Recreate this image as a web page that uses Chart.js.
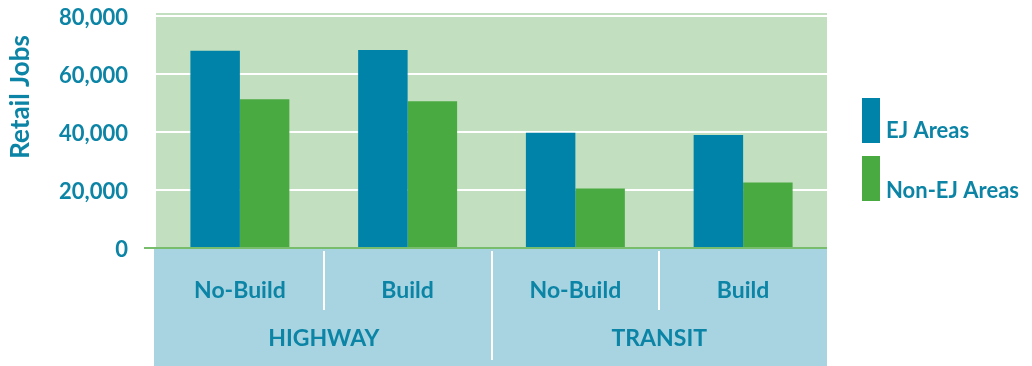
<!DOCTYPE html>
<html>
<head>
<meta charset="utf-8">
<title>Retail Jobs</title>
<script src="https://cdn.jsdelivr.net/npm/chart.js@4.4.1/dist/chart.umd.min.js"></script>
<style>
  html, body { margin: 0; padding: 0; background: #ffffff; }
  #wrap { width: 1032px; height: 366px; }
</style>
</head>
<body>
<div id="wrap"><canvas id="retailChart" width="1032" height="366"></canvas></div>
<script>
// Retail jobs by scenario, EJ vs non-EJ areas
const scenarios = ['No-Build', 'Build', 'No-Build', 'Build'];
const modes = ['HIGHWAY', 'TRANSIT'];
const ejAreas = [68000, 68300, 39700, 39000];
const nonEjAreas = [51300, 50600, 20500, 22600];
const yTicks = [0, 20000, 40000, 60000, 80000];
const seriesNames = ['EJ Areas', 'Non-EJ Areas'];
const yTitle = 'Retail Jobs';

const TEXT_COLOR = '#0b84a6';
const FONT_FAMILY = 'Lato, "Open Sans", sans-serif';
const BLUE = '#0083a9';
const GREEN = '#4aaa42';

function font(size) {
    return 'bold ' + size + 'px ' + FONT_FAMILY;
}

// Draws the plot background, the category panel under the bars, the axis title and the legend
const decorPlugin = {
    id: 'decor',
    beforeDraw(chart) {
        const { ctx, chartArea: a } = chart;
        ctx.save();
        ctx.fillStyle = '#c2e0bf';
        ctx.fillRect(a.left, a.top - 3, a.right - a.left, a.bottom - a.top + 3);
        ctx.restore();
    },
    afterDraw(chart) {
        const { ctx, chartArea: a } = chart;
        const x = chart.scales.x;

        ctx.save();

        // category panel
        ctx.fillStyle = '#a7d4e0';
        ctx.fillRect(a.left - 2, a.bottom + 1, a.right - a.left + 2, chart.height - a.bottom - 1);

        // separators between scenarios (short) and between modes (long)
        ctx.strokeStyle = '#ffffff';
        ctx.lineWidth = 2;
        for (let i = 0; i < scenarios.length - 1; i++) {
            const sx = Math.round((x.getPixelForValue(i) + x.getPixelForValue(i + 1)) / 2);
            const long = (i + 1) % 2 === 0;
            ctx.beginPath();
            ctx.moveTo(sx, a.bottom + 3);
            ctx.lineTo(sx, long ? a.bottom + 112 : a.bottom + 62);
            ctx.stroke();
        }

        ctx.fillStyle = TEXT_COLOR;
        ctx.textAlign = 'center';
        ctx.textBaseline = 'alphabetic';
        ctx.font = font(23);
        scenarios.forEach((s, i) => {
            ctx.fillText(s, x.getPixelForValue(i), a.bottom + 50);
        });
        modes.forEach((m, j) => {
            const cx = (x.getPixelForValue(j * 2) + x.getPixelForValue(j * 2 + 1)) / 2;
            ctx.fillText(m, cx, a.bottom + 98);
        });

        // y axis title
        ctx.save();
        ctx.translate(29, 97);
        ctx.rotate(-Math.PI / 2);
        ctx.font = font(26);
        ctx.fillText(yTitle, 0, 0);
        ctx.restore();

        // legend
        const boxTops = [98, 156];
        const textBases = [138, 198];
        chart.data.datasets.forEach((ds, i) => {
            ctx.fillStyle = ds.backgroundColor;
            ctx.fillRect(862, boxTops[i], 18, 45);
            ctx.fillStyle = TEXT_COLOR;
            ctx.textAlign = 'left';
            ctx.font = font(22);
            ctx.fillText(ds.label, 886, textBases[i]);
        });

        ctx.restore();
    }
};

const ctx = document.getElementById('retailChart').getContext('2d');
new Chart(ctx, {
    type: 'bar',
    data: {
        labels: scenarios,
        datasets: [
            {
                label: seriesNames[0],
                data: ejAreas,
                backgroundColor: BLUE,
                borderWidth: 0,
                categoryPercentage: 0.59,
                barPercentage: 1.0
            },
            {
                label: seriesNames[1],
                data: nonEjAreas,
                backgroundColor: GREEN,
                borderWidth: 0,
                categoryPercentage: 0.59,
                barPercentage: 1.0
            }
        ]
    },
    options: {
        responsive: false,
        animation: false,
        layout: {
            padding: { top: 16, right: 205, bottom: 118, left: 0 }
        },
        plugins: {
            legend: { display: false },
            tooltip: { enabled: false }
        },
        scales: {
            x: {
                display: false
            },
            y: {
                min: 0,
                max: 80000,
                afterBuildTicks(scale) {
                    scale.ticks = yTicks.map(v => ({ value: v }));
                },
                afterFit(scale) {
                    // fixed axis width; the layout padding alone places the plot top
                    scale.width = 156;
                    scale.paddingTop = 0;
                    scale.paddingBottom = 0;
                },
                border: { display: false },
                grid: {
                    color: c => (c.tick && c.tick.value === 0 ? '#78bd6b' : '#ffffff'),
                    lineWidth: 2,
                    tickLength: 12
                },
                ticks: {
                    color: TEXT_COLOR,
                    font: { family: FONT_FAMILY, size: 22, weight: 'bold' },
                    padding: 16,
                    labelOffset: 2,
                    callback: v => v.toLocaleString('en-US')
                }
            }
        }
    },
    plugins: [decorPlugin]
});
</script>
</body>
</html>
